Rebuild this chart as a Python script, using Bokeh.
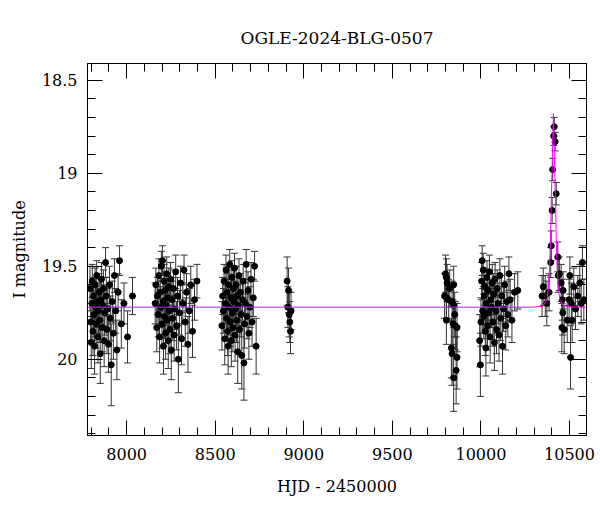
from bokeh.plotting import figure
from bokeh.models import (ColumnDataSource, Range1d, FixedTicker, LinearAxis,
                          Whisker, TeeHead)
from bokeh.embed import file_html
from bokeh.resources import INLINE

# ---- data (HJD - 2450000, I mag, error) ----
t1 = [7793,7797,7800,7804,7806,7810,7813,7816,7819,7822,7825,7828,7831,7834,7838,7841,7845,7848,7851,7855,7858,7862,7866,7869,7873,7877,7881,7885,7889,7893,7898,7903,7908,7913,7919,7925,7931,7938,7945,7952,7960,7970,7985,8005,8033]
m1 = [19.62,19.80,19.91,19.70,19.58,19.85,19.66,19.76,19.93,19.60,19.72,19.81,19.55,19.69,19.88,19.74,19.64,19.79,19.97,19.68,19.57,19.83,19.71,19.62,19.90,19.75,19.48,19.66,19.84,19.73,19.92,19.60,19.78,20.03,19.69,19.86,19.55,19.74,19.95,19.64,19.47,19.81,19.70,19.88,19.66]
e1 = [0.12,0.10,0.14,0.11,0.09,0.13,0.10,0.12,0.15,0.09,0.11,0.13,0.08,0.10,0.14,0.12,0.10,0.12,0.16,0.11,0.09,0.13,0.11,0.10,0.14,0.12,0.08,0.10,0.13,0.11,0.15,0.10,0.12,0.22,0.11,0.14,0.09,0.12,0.16,0.10,0.08,0.13,0.11,0.14,0.10]

t2 = [8161,8165,8170,8174,8178,8182,8186,8190,8193,8196,8199,8202,8205,8208,8211,8214,8217,8220,8223,8226,8229,8232,8235,8238,8241,8244,8248,8252,8256,8260,8264,8268,8272,8277,8282,8287,8292,8298,8304,8310,8317,8324,8331,8338,8346,8354,8362,8372,8383,8397]
m2 = [19.70,19.60,19.83,19.66,19.76,19.55,19.88,19.64,19.72,19.50,19.81,19.47,19.69,19.93,19.58,19.77,19.63,19.86,19.71,19.54,19.79,19.67,19.90,19.61,19.74,19.84,19.57,19.95,19.68,19.78,19.62,19.87,19.73,19.53,19.82,19.66,20.00,19.75,19.59,19.89,19.70,19.52,19.80,19.64,19.92,19.74,19.60,19.85,19.68,19.58]
e2 = [0.11,0.09,0.13,0.10,0.12,0.09,0.14,0.10,0.11,0.08,0.13,0.08,0.11,0.15,0.09,0.12,0.10,0.14,0.11,0.09,0.12,0.10,0.15,0.10,0.11,0.13,0.09,0.16,0.10,0.12,0.10,0.14,0.11,0.09,0.13,0.10,0.18,0.12,0.09,0.14,0.11,0.08,0.13,0.10,0.15,0.12,0.10,0.14,0.11,0.09]

t3 = [8538,8542,8546,8550,8554,8558,8561,8564,8567,8570,8573,8576,8579,8582,8585,8588,8591,8594,8597,8600,8603,8606,8609,8612,8615,8618,8621,8624,8627,8630,8634,8638,8642,8646,8650,8654,8658,8662,8666,8670,8675,8680,8685,8690,8696,8702,8708,8715,8722,8731]
m3 = [19.82,19.66,19.74,19.58,19.89,19.70,19.52,19.78,19.64,19.85,19.93,19.60,19.72,19.49,19.80,19.67,19.90,19.56,19.75,19.83,19.62,19.69,19.51,19.87,19.73,19.60,19.79,19.66,19.96,19.71,19.55,19.84,19.64,19.76,19.98,19.68,19.58,20.02,19.81,19.70,19.49,19.77,19.63,19.86,19.72,19.57,19.80,19.67,19.50,19.93]
e3 = [0.13,0.10,0.12,0.09,0.14,0.11,0.08,0.12,0.10,0.13,0.15,0.10,0.11,0.08,0.13,0.10,0.14,0.09,0.12,0.13,0.10,0.11,0.08,0.14,0.11,0.10,0.12,0.10,0.17,0.11,0.09,0.13,0.10,0.12,0.18,0.11,0.09,0.20,0.13,0.11,0.08,0.12,0.10,0.14,0.11,0.09,0.13,0.10,0.08,0.15]

t4 = [8906,8910,8914,8918,8921,8925,8928]
m4 = [19.58,19.72,19.63,19.76,19.80,19.85,19.74]
e4 = [0.13,0.11,0.12,0.12,0.11,0.12,0.10]

t5 = [9795,9800,9805,9805,9805,9809,9818,9824,9833,9837,9837,9843,9846,9846,9846,9852,9856,9860,9865,9865]
m5 = [19.66,19.54,19.56,19.67,19.79,19.59,19.68,19.62,19.94,19.69,19.97,19.81,19.60,19.71,20.10,19.76,19.82,20.06,19.83,19.99]
e5 = [0.12,0.10,0.10,0.11,0.13,0.10,0.11,0.10,0.16,0.11,0.17,0.13,0.10,0.12,0.18,0.12,0.13,0.18,0.13,0.17]

t6 = [9993,9997,10000,10004,10007,10010,10013,10016,10019,10022,10025,10028,10031,10034,10037,10040,10044,10048,10052,10056,10060,10064,10068,10072,10076,10080,10084,10088,10092,10097,10102,10107,10112,10117,10122,10128,10134,10140,10146,10152,10158,10165,10175,10190,10208]
m6 = [19.90,20.03,19.80,19.58,19.47,19.74,19.52,19.77,19.66,19.61,19.85,19.94,19.70,19.56,19.82,19.63,19.75,19.53,19.88,19.68,19.72,19.59,19.80,19.65,19.91,19.57,19.74,19.84,19.62,19.70,19.87,19.55,19.78,19.66,19.93,19.73,19.60,19.82,19.69,19.76,19.54,19.68,19.79,19.64,19.63]
e6 = [0.14,0.17,0.13,0.10,0.08,0.12,0.09,0.12,0.11,0.10,0.13,0.15,0.11,0.09,0.13,0.10,0.12,0.09,0.14,0.11,0.11,0.10,0.13,0.11,0.15,0.09,0.12,0.13,0.10,0.11,0.14,0.09,0.12,0.11,0.15,0.12,0.10,0.13,0.11,0.12,0.09,0.11,0.12,0.10,0.10]

t7 = [10345,10352,10363,10372,10385,10394,10397,10402,10405,10411,10414,10419,10425,10434,10436,10443,10453,10457,10459,10462,10464,10470,10487,10498,10502,10506,10511,10515,10524,10534,10547,10558,10566,10573,10581]
m7 = [19.66,19.61,19.66,19.70,19.64,19.48,19.39,19.20,18.98,18.80,18.75,18.83,19.11,19.45,19.55,19.54,19.59,19.83,19.68,19.75,19.63,19.84,19.79,19.68,19.55,19.99,19.70,19.79,19.61,19.73,19.66,19.59,19.70,19.48,19.68]
e7 = [0.11,0.10,0.11,0.12,0.10,0.08,0.08,0.07,0.06,0.05,0.05,0.05,0.06,0.08,0.09,0.09,0.10,0.13,0.11,0.12,0.10,0.13,0.12,0.11,0.10,0.17,0.11,0.12,0.10,0.11,0.11,0.10,0.11,0.09,0.11]

# model light curve
model_t = [7779,10289,10349,10373,10380,10388,10393,10397,10401,10405,10409,10413,10417,10421,10425,10430,10437,10445,10469,10529,10596]
model_m = [19.72,19.72,19.715,19.68,19.62,19.50,19.35,19.15,19.00,18.85,18.68,18.85,19.00,19.15,19.35,19.50,19.62,19.68,19.715,19.72,19.72]

x_major = [8000,8500,9000,9500,10000,10500]
x_minor = [7800,7900,8100,8200,8300,8400,8600,8700,8800,8900,9100,9200,9300,9400,9600,9700,9800,9900,10100,10200,10300,10400,10600]
y_major = [18.5,19.0,19.5,20.0]
y_labels = ["18.5","19","19.5","20"]
y_minor = [18.5,18.6,18.7,18.8,18.9,19.0,19.1,19.2,19.3,19.4,19.5,19.6,19.7,19.8,19.9,20.0,20.1,20.2,20.3,20.4]

t = t1+t2+t3+t4+t5+t6+t7
m = m1+m2+m3+m4+m5+m6+m7
e = e1+e2+e3+e4+e5+e6+e7
src = ColumnDataSource(dict(t=t, m=m, lo=[a+b for a,b in zip(m,e)], hi=[a-b for a,b in zip(m,e)]))

FONT = "DejaVu Serif"

p = figure(width=600, height=512, output_backend="svg", toolbar_location=None,
           x_range=Range1d(7779, 10596), y_range=Range1d(20.41, 18.41),
           title="OGLE-2024-BLG-0507",
           min_border_left=87, min_border_right=14, min_border_top=63, min_border_bottom=77)
p.title.text_font = FONT
p.title.text_font_size = "17px"
p.title.text_font_style = "normal"
p.title.text_color = "black"
p.title.align = "center"
p.title.offset = 0
p.title.standoff = 32
p.grid.visible = False
p.outline_line_color = "black"
p.background_fill_color = "white"
p.border_fill_color = "white"

xt = FixedTicker(ticks=x_major, minor_ticks=x_minor)
yt = FixedTicker(ticks=y_major, minor_ticks=y_minor)

def style(ax, labels=True):
    ax.major_tick_in = 15
    ax.major_tick_out = 0
    ax.minor_tick_in = 8
    ax.minor_tick_out = 0
    ax.axis_line_color = "black"
    ax.major_tick_line_color = "black"
    ax.minor_tick_line_color = "black"
    ax.major_label_text_font = FONT
    ax.major_label_text_font_size = "16px"
    ax.major_label_text_color = "black"
    ax.axis_label_text_font = FONT
    ax.axis_label_text_font_size = "16px"
    ax.axis_label_text_font_style = "normal"
    ax.axis_label_text_color = "black"
    if not labels:
        ax.major_label_text_font_size = "0px"
        ax.major_label_text_color = None
        ax.major_label_standoff = 0

p.xaxis.ticker = xt
p.yaxis.ticker = yt
p.xaxis.formatter.use_scientific = False
p.yaxis.major_label_overrides = {v: s for v, s in zip(y_major, y_labels)}
p.xaxis.axis_label = "HJD - 2450000"
p.yaxis.axis_label = "I magnitude"
style(p.xaxis[0]); style(p.yaxis[0])
p.xaxis.major_label_standoff = 12
p.yaxis.major_label_standoff = 10
p.xaxis.axis_label_standoff = 14
p.yaxis.axis_label_standoff = 10

top = LinearAxis(ticker=xt); style(top, False)
right = LinearAxis(ticker=yt); style(right, False)
p.add_layout(top, "above")
p.add_layout(right, "right")

p.add_layout(Whisker(source=src, base="t", lower="lo", upper="hi", dimension="height",
                     line_color="#333333", line_width=1,
                     upper_head=TeeHead(size=7, line_color="#333333", line_width=1),
                     lower_head=TeeHead(size=7, line_color="#333333", line_width=1)))
p.scatter("t", "m", source=src, size=6, color="black")
p.line(model_t, model_m, line_color="#ff00ff", line_width=1)

open("out.html", "w").write(file_html(p, INLINE))
